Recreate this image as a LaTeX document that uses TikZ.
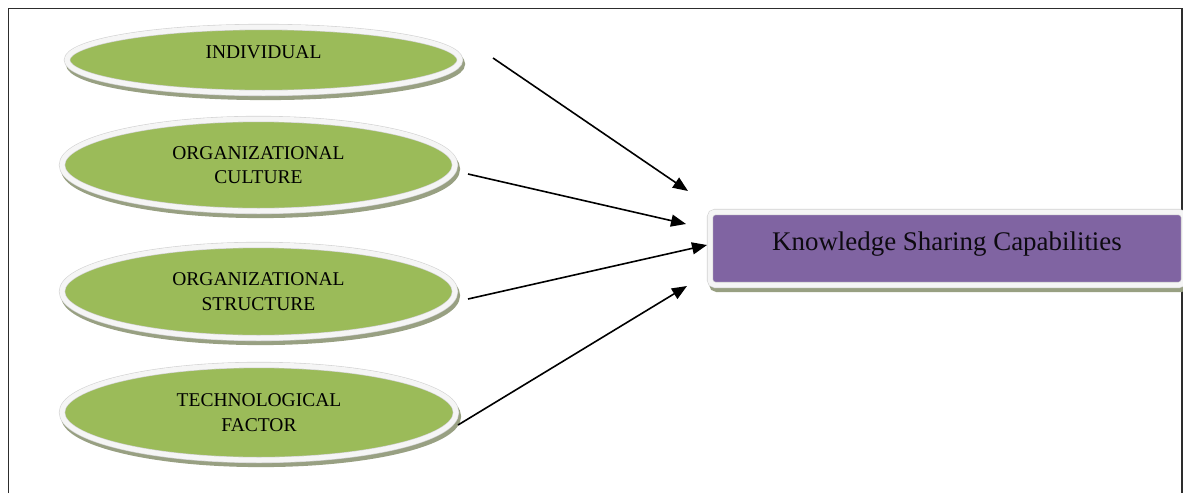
\documentclass[tikz,border=0pt]{standalone}
\usepackage{fontspec}
\setmainfont{Liberation Serif}
\usetikzlibrary{shapes.geometric,arrows.meta,shadows}
\definecolor{kgreen}{RGB}{155,187,89}
\definecolor{kpurple}{RGB}{128,100,162}
\definecolor{shadowc}{RGB}{152,160,130}
\definecolor{rimgray}{RGB}{210,210,210}
\definecolor{framec}{RGB}{45,45,45}
\tikzset{
  rim/.style={draw=rimgray, double=white!96!black, double distance=5pt, line width=0.6pt,
    general shadow={fill=shadowc, draw=shadowc, line width=6.2pt, shadow xshift=2pt, shadow yshift=-4pt}},
  factor/.style={ellipse, rim, fill=kgreen, inner sep=0pt, align=center,
    font=\fontsize{19.5}{24.5}\selectfont, text=black},
  target/.style={rectangle, rounded corners=5pt, rim, fill=kpurple, inner sep=0pt,
    font=\fontsize{26.9}{30}\selectfont, text=black!90!kpurple},
  arr/.style={draw=black, line width=1.6pt, -{Triangle[length=15pt,width=12pt]}},
  frameline/.style={draw=framec, line width=1.6pt}
}
\begin{document}
\begin{tikzpicture}[x=1pt,y=-1pt]
\useasboundingbox (0,0) rectangle (1183,493);
\coordinate (fbl) at (8.5,493);
\coordinate (ftl) at (8.5,8.5);
\coordinate (ftr) at (1182,8.5);
\coordinate (fbr) at (1182,493);
\draw[frameline] (fbl) -- (ftl) -- (ftr) -- (fbr);

\node[factor, minimum width=393pt, minimum height=66pt, text height=13pt, text depth=17pt] (ind) at (263.5,60) {INDIVIDUAL};
\node[factor, minimum width=393pt, minimum height=92pt] (cul) at (258.5,165) {ORGANIZATIONAL\\CULTURE};
\node[factor, minimum width=393pt, minimum height=93pt] (str) at (258.5,291.5) {ORGANIZATIONAL\\STRUCTURE};
\node[factor, minimum width=394pt, minimum height=95pt] (tec) at (259,412.5) {TECHNOLOGICAL\\FACTOR};

\node[target, minimum width=474pt, minimum height=73pt, text height=18.5pt, text depth=15.5pt] (ksc) at (947,248.5) {Knowledge Sharing Capabilities};

\coordinate (s1) at (493,58);
\coordinate (t1) at (688,191);
\coordinate (s2) at (468,174);
\coordinate (t2) at (686,224);
\coordinate (s3) at (468,299);
\coordinate (t3) at (707,245);
\coordinate (s4) at (458,425);
\coordinate (t4) at (687,286);
\draw[arr] (s1) -- (t1);
\draw[arr] (s2) -- (t2);
\draw[arr] (s3) -- (t3);
\draw[arr] (s4) -- (t4);
\end{tikzpicture}
\end{document}
